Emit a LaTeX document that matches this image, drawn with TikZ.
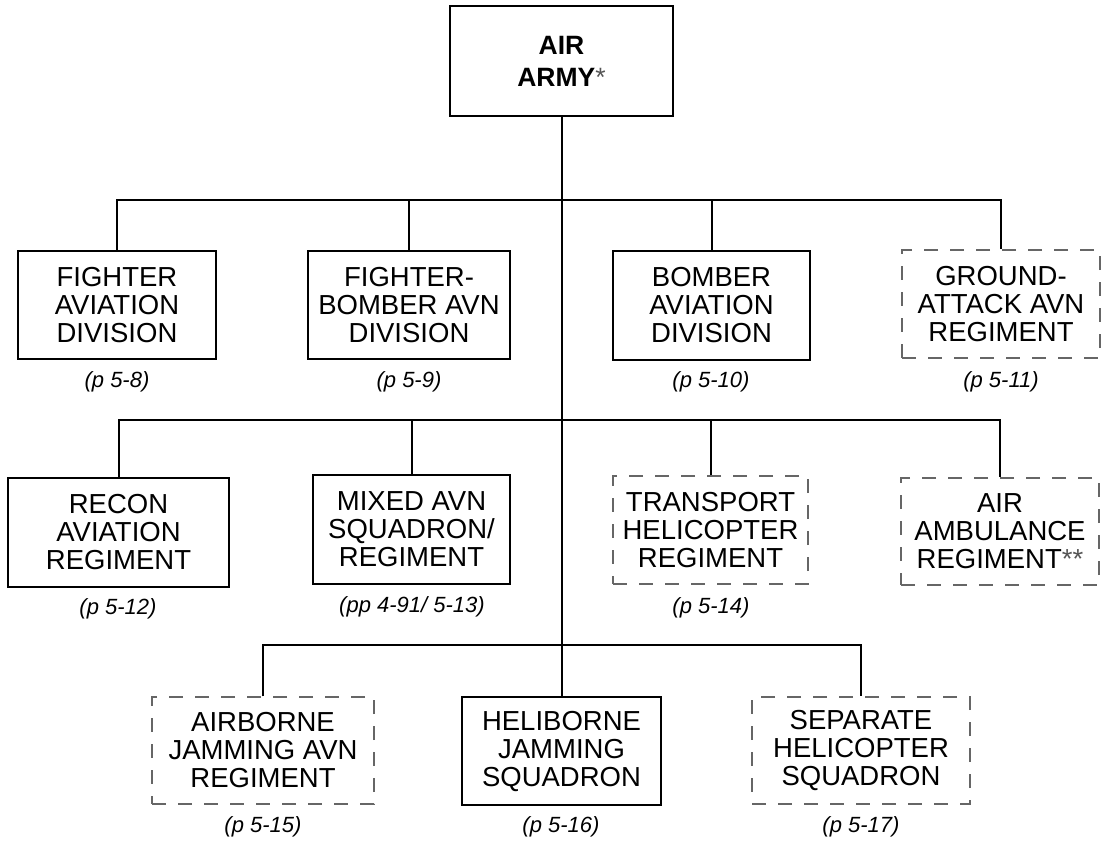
\documentclass[tikz,border=0pt]{standalone}
\usepackage{fontspec}
\setmainfont{Liberation Sans}
\definecolor{dashgray}{HTML}{666666}
\definecolor{astgray}{HTML}{555555}
\begin{document}
\begin{tikzpicture}[x=1pt,y=-1pt,
  unit/.style={draw=black,line width=2pt,align=center,inner sep=0pt,
    font=\fontsize{27.5}{28}\selectfont},
  dunit/.style={draw=dashgray,line width=1.2pt,dash pattern=on 14pt off 12pt,align=center,inner sep=0pt,
    font=\fontsize{27.5}{28}\selectfont},
  pref/.style={font=\fontsize{22}{22}\selectfont\itshape,inner sep=0pt},
  conn/.style={draw=black,line width=2pt}]
\useasboundingbox (0,0) rectangle (1102,841);
% top
\node[unit,minimum width=223pt,minimum height=110pt,font=\fontsize{26.5}{32}\selectfont\bfseries] (army) at (561.5,61)
  {AIR\\ARMY{\mdseries\color{astgray}*}};
% row 1
\node[unit,minimum width=198pt,minimum height=108pt] (fighter) at (117,305) {FIGHTER\\AVIATION\\DIVISION};
\node[unit,minimum width=202pt,minimum height=108pt] (fb) at (409,305) {FIGHTER-\\BOMBER AVN\\DIVISION};
\node[unit,minimum width=197pt,minimum height=109pt] (bomber) at (711.5,305.5) {BOMBER\\AVIATION\\DIVISION};
\node[dunit,minimum width=198pt,minimum height=108pt] (ground) at (1001,304) {GROUND-\\ATTACK AVN\\REGIMENT};
\node[pref] (l1) at (117,382) {(p 5-8)};
\node[pref] (l2) at (409,382) {(p 5-9)};
\node[pref] (l3) at (711,382) {(p 5-10)};
\node[pref] (l4) at (1001,382) {(p 5-11)};
% row 2
\node[unit,minimum width=221pt,minimum height=109pt] (recon) at (118.5,532.5) {RECON\\AVIATION\\REGIMENT};
\node[unit,minimum width=197pt,minimum height=109pt] (mixed) at (411.5,529.5) {MIXED AVN\\SQUADRON/\\REGIMENT};
\node[dunit,minimum width=195pt,minimum height=108pt] (transport) at (710.5,530) {TRANSPORT\\HELICOPTER\\REGIMENT};
\node[dunit,minimum width=198pt,minimum height=107pt] (ambulance) at (1000,531.5) {AIR\\AMBULANCE\\REGIMENT{\color{astgray}**}};
\node[pref] (l5) at (118,609) {(p 5-12)};
\node[pref] (l6) at (412,607) {(pp 4-91/ 5-13)};
\node[pref] (l7) at (711,608) {(p 5-14)};
% row 3
\node[dunit,minimum width=222pt,minimum height=107pt] (airborne) at (263,750.5) {AIRBORNE\\JAMMING AVN\\REGIMENT};
\node[unit,minimum width=199pt,minimum height=108pt] (heliborne) at (561.5,751) {HELIBORNE\\JAMMING\\SQUADRON};
\node[dunit,minimum width=218pt,minimum height=107pt] (separate) at (861,750.5) {SEPARATE\\HELICOPTER\\SQUADRON};
\node[pref] (l8) at (263,827) {(p 5-15)};
\node[pref] (l9) at (561,827) {(p 5-16)};
\node[pref] (l10) at (861,827) {(p 5-17)};
% connectors
\coordinate (b1) at (561.5,200);
\coordinate (b2) at (561.5,420);
\coordinate (b3) at (561.5,645);
\draw[conn] (army.south) -- (heliborne.north);
\draw[conn] (fighter.north) |- (b1) -| (ground.north);
\draw[conn] (fb.north) -- (fb.north |- b1);
\draw[conn] (bomber.north) -- (bomber.north |- b1);
\draw[conn] (recon.north) |- (b2) -| (ambulance.north);
\draw[conn] (mixed.north) -- (mixed.north |- b2);
\draw[conn] (transport.north) -- (transport.north |- b2);
\draw[conn] (airborne.north) |- (b3) -| (separate.north);
\end{tikzpicture}
\end{document}
